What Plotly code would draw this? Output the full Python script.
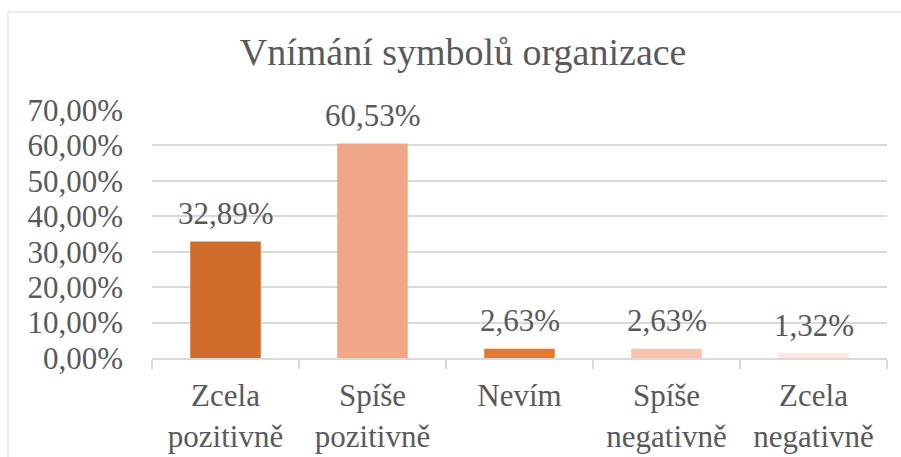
import plotly.graph_objects as go

categories = ["Zcela<br>pozitivně", "Spíše<br>pozitivně", "Nevím", "Spíše<br>negativně", "Zcela<br>negativně"]
values = [32.89, 60.53, 2.63, 2.63, 1.32]
labels = ["32,89%", "60,53%", "2,63%", "2,63%", "1,32%"]
colors = ["#D06D2B", "#F0A788", "#E27930", "#F6C3AF", "#FBE5DC"]
tick_vals = [0, 10, 20, 30, 40, 50, 60, 70]
tick_text = ["0,00%", "10,00%", "20,00%", "30,00%", "40,00%", "50,00%", "60,00%", "70,00%"]
title_text = "Vnímání symbolů organizace"

FONT = "Times New Roman, Tinos, DejaVu Serif, serif"
TXT = "#595959"
GRID = "#D9D9D9"

fig = go.Figure()
fig.add_trace(go.Bar(
    x=categories, y=values,
    marker=dict(color=colors, line=dict(width=0)),
    hoverinfo="skip",
))

for c, v, t in zip(categories, values, labels):
    fig.add_annotation(x=c, y=v, text=t, showarrow=False, yanchor="middle",
                       yshift=28, font=dict(family=FONT, size=31, color=TXT))

L, R, T, B = 152, 14, 110, 99
W, H = 901, 457
pw, ph = W - L - R, H - T - B
fig.add_shape(type="rect", xref="paper", yref="paper",
              x0=(8 - L) / pw, x1=(W + 5 - L) / pw,
              y0=(H - B - (H + 5)) / ph, y1=(H - B - 12) / ph,
              line=dict(color=GRID, width=1), fillcolor="rgba(0,0,0,0)", layer="below")

fig.update_layout(
    width=W, height=H,
    margin=dict(l=L, r=R, t=T, b=B, pad=0, autoexpand=False),
    paper_bgcolor="white", plot_bgcolor="white",
    bargap=0.52,
    showlegend=False,
    title=dict(text=title_text, x=0.514, xref="container", xanchor="center",
               y=1 - 52 / H, yref="container", yanchor="middle",
               font=dict(family=FONT, size=38, color=TXT)),
    font=dict(family=FONT, size=31, color=TXT),
    xaxis=dict(showgrid=False, showline=True, linecolor=GRID, linewidth=2,
               ticks="outside", ticklen=9, tickcolor=GRID, tickwidth=2,
               tickson="boundaries", tickfont=dict(family=FONT, size=31, color=TXT),
               ticklabelstandoff=9, automargin=False),
    yaxis=dict(range=[0, 70], tickvals=tick_vals, ticktext=tick_text,
               showgrid=True, gridcolor=GRID, gridwidth=2, zeroline=False,
               showline=False, ticks="", ticklabelstandoff=28, automargin=False,
               tickfont=dict(family=FONT, size=31, color=TXT)),
)

fig.write_html("out.html", config={"displayModeBar": False},
               post_script="document.body.style.margin='0';document.body.style.overflow='hidden';")
